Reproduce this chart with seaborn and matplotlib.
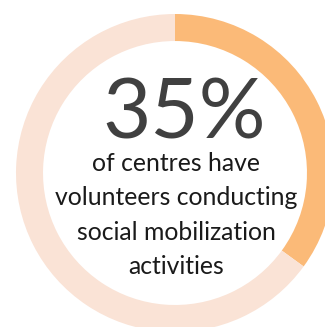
import matplotlib
matplotlib.use("Agg")
import matplotlib.pyplot as plt
import seaborn as sns

# Share of centres with volunteers doing social mobilization
labels = ["With volunteers", "Without volunteers"]
shares = [35, 65]
colors = ["#FBBA78", "#FAE3D6"]
headline = "35%"
caption_lines = ["of centres have", "volunteers conducting", "social mobilization", "activities"]

sns.set_theme(style="white")
plt.rcParams["font.family"] = ["Lato", "DejaVu Sans"]

W, H = 325, 327
fig = plt.figure(figsize=(W / 100, H / 100), dpi=100)
fig.patch.set_facecolor("white")

# donut centre (175, 173) px, outer radius 159 px
cx, cy, r = 175, 173, 159
ax = fig.add_axes([(cx - r) / W, (H - cy - r) / H, 2 * r / W, 2 * r / H])

ax.pie(shares, colors=colors, startangle=90, counterclock=False,
       radius=1.0, wedgeprops=dict(width=0.17, edgecolor="none"))
ax.set_xlim(-1, 1)
ax.set_ylim(-1, 1)
ax.set_aspect("equal")
ax.axis("off")

ax.text(0.06, 0.22, headline, ha="center", va="baseline",
        fontsize=60, color="#404040")
# multi-line baseline alignment anchors the last line
ax.text(0.006, -0.635, "\n".join(caption_lines), ha="center", va="baseline",
        fontsize=17.8, color="#1a1a1a", linespacing=1.6)

fig.savefig("out.png", dpi=100, facecolor="white")
